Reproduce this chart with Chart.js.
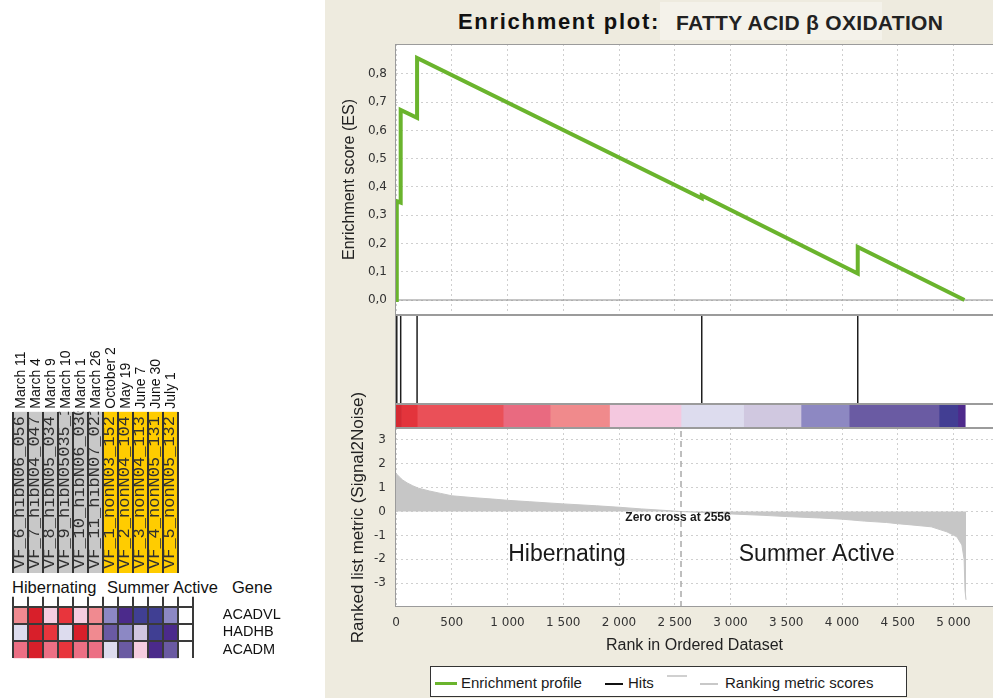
<!DOCTYPE html>
<html>
<head>
<meta charset="utf-8">
<script src="https://cdn.jsdelivr.net/npm/chart.js@4.4.1/dist/chart.umd.min.js"></script>
<style>
  html, body { margin: 0; padding: 0; background: #fff; }
  body { width: 993px; height: 698px; position: relative; overflow: hidden;
         font-family: 'Liberation Sans', Arial, sans-serif; color: #111; }
  .abs { position: absolute; white-space: nowrap; }
  canvas { position: absolute; }
  #panel { left: 325px; top: 0; width: 668px; height: 698px; background: #eeebdf; }
  .lg { font-size: 15px; line-height: 18px; top: 674px; color: #1a1a1a; }
  .grp { font-size: 16.5px; line-height: 20px; top: 577px; color: #111; }
</style>
</head>
<body>
<div id="panel" class="abs"></div>
<div class="abs" style="left:660px;top:2px;width:222px;height:38px;background:#f4f2ea;"></div>
<div class="abs" style="left:458px;top:9px;font-weight:bold;font-size:22px;letter-spacing:1.7px;color:#111;">Enrichment plot:</div>
<div class="abs" style="left:676px;top:11px;font-weight:bold;font-size:21px;letter-spacing:0.3px;color:#222;">FATTY ACID β OXIDATION</div>

<canvas id="esChart" width="668" height="271" style="left:325px;top:44px"></canvas>
<canvas id="hitsChart" width="603" height="89" style="left:390px;top:315px"></canvas>
<canvas id="barChart" width="603" height="24" style="left:390px;top:404px"></canvas>
<canvas id="metricChart" width="668" height="280" style="left:325px;top:380px"></canvas>

<div class="abs" style="left:430px;top:666px;width:475px;height:29px;border:1.5px solid #333;background:#fff;"></div>
<div class="abs" style="left:435px;top:682px;width:22px;height:3px;background:#6ab42d;"></div>
<div class="abs lg" style="left:461px;">Enrichment profile</div>
<div class="abs" style="left:605px;top:683px;width:18px;height:1.5px;background:#111;"></div>
<div class="abs lg" style="left:628px;">Hits</div>
<div class="abs" style="left:667px;top:675px;width:20px;height:1.5px;background:#d0d0d0;"></div>
<div class="abs" style="left:700px;top:683px;width:18px;height:1.5px;background:#c8c8c8;"></div>
<div class="abs lg" style="left:725px;">Ranking metric scores</div>

<canvas id="sampleChart" width="200" height="245" style="left:0;top:330px"></canvas>
<div class="abs grp" style="left:12px;">Hibernating</div>
<div class="abs grp" style="left:107px;">Summer Active</div>
<div class="abs grp" style="left:232px;">Gene</div>
<canvas id="heatChart" width="300" height="70" style="left:0;top:590px"></canvas>

<script>
// ---- data ----
const rankTicks = [0, 500, 1000, 1500, 2000, 2500, 3000, 3500, 4000, 4500, 5000];
const esTicks = [0, 0.1, 0.2, 0.3, 0.4, 0.5, 0.6, 0.7, 0.8];
const metricTicks = [-3, -2, -1, 0, 1, 2, 3];

// running enrichment score (steps at each hit)
const esRanks = [0, 7, 7, 42, 42, 189, 189, 2742, 2742, 4141, 4141, 5098];
const esValues = [0, 0, 0.35, 0.345, 0.673, 0.645, 0.857, 0.360, 0.370, 0.094, 0.188, 0];

const hitRanks = [7, 42, 189, 2742, 4141];

// ranked list metric (Signal2Noise)
const metricRanks = [0, 10, 30, 60, 100, 150, 200, 300, 400, 500,
  700, 900, 1000, 1200, 1500, 1800, 2000, 2200, 2400, 2556,
  2800, 3000, 3300, 3500, 3800, 4000, 4200, 4400, 4500, 4600,
  4800, 4940, 5030, 5075, 5095, 5103, 5112];
const metricValues = [1.62, 1.55, 1.45, 1.32, 1.2, 1.08, 0.98, 0.86, 0.76, 0.66,
  0.58, 0.51, 0.47, 0.41, 0.32, 0.24, 0.18, 0.11, 0.05, 0,
  -0.05, -0.1, -0.16, -0.21, -0.27, -0.32, -0.40, -0.46, -0.51, -0.55,
  -0.64, -0.85, -1.06, -1.4, -2.0, -3.3, -3.7];
const zeroCross = 2556;

const phenotypes = ['Hibernating', 'Summer Active'];
const phenotypeRanks = [1534, 3773];

// colour bar under the hits
const barBreaks = [0, 49, 190, 961, 1382, 1915, 2556, 3117, 3632, 4064, 4870, 5039, 5105];
const barColors = ['#d42a33', '#e3343c', '#ea5058', '#e96a80', '#f08a8c', '#f4c8df',
  '#dddcee', '#d0c8e0', '#8d88c2', '#6a5ba3', '#423e93', '#4e2a8c'];

// heat map
const dates = ['March 11', 'March 4', 'March 9', 'March 10', 'March 1', 'March 26',
  'October 2', 'May 19', 'June 7', 'June 30', 'July 1'];
const sampleIds = ['VF_6_hibN06_056', 'VF_7_hibN04_047', 'VF_8_hibN05_034', 'VF_9_hibN05035_1',
  'VF_10_hibN06_030', 'VF_11_hibN07_021', 'VF_1_nonN03_152', 'VF_2_nonN04_104',
  'VF_3_nonN04_113', 'VF_4_nonN05_131', 'VF_5_nonN05_132'];
const sampleGroups = ['hib', 'hib', 'hib', 'hib', 'hib', 'hib', 'non', 'non', 'non', 'non', 'non'];
const genes = ['ACADVL', 'HADHB', 'ACADM'];
const heatLevels = [
  [7, 10, 6, 9, 6, 7, 3, 0, 1, 1, 3],
  [5, 10, 9, 5, 10, 7, 2, 3, 4, 1, 0],
  [8, 10, 8, 9, 8, 8, 5, 2, 6, 0, 2]
];

// ---- styles ----
const heatPalette = ['#4b2a8b', '#403f93', '#6a5aa2', '#8c88c4', '#d0c6e0', '#dddcee',
  '#f5cde0', '#f08a90', '#ec6f84', '#e8353c', '#d81f2a'];
const groupColors = { hib: '#c8c8c8', non: '#ffcc00' };
const xMax = 5354;
const gridColor = '#cfcfcf';
const tickFont = { family: "'DejaVu Sans'", size: 12 };

Chart.defaults.font.family = "'Liberation Sans', Arial, sans-serif";
Chart.defaults.color = '#222';
Chart.defaults.animation = false;
Chart.defaults.responsive = false;
Chart.defaults.plugins.legend.display = false;
Chart.defaults.plugins.tooltip.enabled = false;

const fixWidth = w => s => { s.width = w; s.paddingTop = 0; s.paddingBottom = 0; };
const fixHeight = h => s => { s.height = h; s.paddingLeft = 0; s.paddingRight = 0; };
const useTicks = list => s => { s.ticks = list.map(v => ({ value: v })); };
const fmtRank = v => v < 1000 ? String(v) : Math.floor(v / 1000) + ' ' + String(v % 1000).padStart(3, '0');

// white plot area + grey frame
const framePlugin = {
  id: 'frame',
  beforeDraw(chart) {
    const { ctx, chartArea: a } = chart;
    ctx.save();
    ctx.fillStyle = '#fff';
    ctx.fillRect(a.left, a.top, a.right - a.left, a.bottom - a.top);
    ctx.restore();
  },
  afterDraw(chart) {
    const { ctx, chartArea: a } = chart;
    ctx.save();
    ctx.strokeStyle = '#9b9b9b';
    ctx.lineWidth = 1;
    ctx.strokeRect(a.left - 0.5, a.top + 0.5, a.right - a.left + 1, a.bottom - a.top - 1);
    ctx.restore();
  }
};

// Enrichment score
new Chart(document.getElementById('esChart'), {
  type: 'line',
  data: {
    datasets: [
      { data: esRanks.map((r, i) => ({ x: r, y: esValues[i] })), borderColor: '#6ab42d',
        borderWidth: 4, pointRadius: 0 },
      { data: [{ x: 0, y: 0 }, { x: xMax, y: 0 }], borderColor: '#8e8e8e', borderWidth: 1.2, pointRadius: 0 }
    ]
  },
  options: {
    layout: { padding: 0, autoPadding: false },
    scales: {
      x: { type: 'linear', min: 0, max: xMax, afterBuildTicks: useTicks(rankTicks),
           ticks: { display: false }, grid: { color: gridColor, drawTicks: false },
           border: { display: false, dash: [2, 3] }, afterFit: fixHeight(0) },
      y: { min: -0.053, max: 0.906, afterBuildTicks: useTicks(esTicks),
           ticks: { callback: v => v.toFixed(1).replace('.', ','), font: tickFont, color: '#333', padding: 9 },
           grid: { color: gridColor, drawTicks: false }, border: { display: false, dash: [2, 3] },
           title: { display: true, text: 'Enrichment score (ES)', font: { size: 16 }, color: '#222',
                    padding: { top: 15, bottom: 0 } },
           afterFit: fixWidth(71) }
    }
  },
  plugins: [framePlugin]
});

// Hits
new Chart(document.getElementById('hitsChart'), {
  type: 'scatter',
  data: {
    datasets: [{ data: hitRanks.map(r => ({ x: r, y: 0.5 })), pointStyle: 'line', pointRotation: 90,
                 pointRadius: 43.5, pointBorderColor: '#1e1e1e', pointBorderWidth: 1.5 }]
  },
  options: {
    layout: { padding: { left: 6 }, autoPadding: false },
    scales: { x: { type: 'linear', display: false, min: 0, max: xMax },
              y: { display: false, min: 0, max: 1 } }
  },
  plugins: [framePlugin]
});

// Ranked list colour bar
new Chart(document.getElementById('barChart'), {
  type: 'bar',
  data: {
    labels: ['rank'],
    datasets: barColors.map((c, i) => ({ data: [[barBreaks[i], barBreaks[i + 1]]], backgroundColor: c,
      borderWidth: 0, grouped: false, barPercentage: 1, categoryPercentage: 1 }))
  },
  options: {
    indexAxis: 'y',
    layout: { padding: { left: 6 }, autoPadding: false },
    scales: { x: { type: 'linear', display: false, min: 0, max: xMax }, y: { display: false } }
  },
  plugins: [framePlugin]
});

// Ranked list metric
const metricText = {
  id: 'metricText',
  afterDatasetsDraw(chart) {
    const { ctx, scales: { x, y } } = chart;
    ctx.save();
    ctx.fillStyle = '#1a1a1a';
    ctx.textAlign = 'center';
    ctx.textBaseline = 'middle';
    ctx.font = "bold 12px 'Liberation Sans'";
    ctx.fillText('Zero cross at ' + zeroCross, x.getPixelForValue(zeroCross) - 3, y.getPixelForValue(-0.26));
    ctx.font = "23px 'Liberation Sans'";
    phenotypes.forEach((p, i) => ctx.fillText(p, x.getPixelForValue(phenotypeRanks[i]), y.getPixelForValue(-1.82)));
    ctx.restore();
  }
};
new Chart(document.getElementById('metricChart'), {
  type: 'line',
  data: {
    datasets: [
      { data: [{ x: zeroCross, y: -4.0 }, { x: zeroCross, y: 3.5 }], borderColor: '#aaaaaa',
        borderWidth: 1.5, borderDash: [6, 4], pointRadius: 0 },
      { data: metricRanks.map((r, i) => ({ x: r, y: metricValues[i] })), borderColor: '#c6c6c6',
        backgroundColor: '#c6c6c6', borderWidth: 1, fill: 'origin', pointRadius: 0 }
    ]
  },
  options: {
    layout: { padding: { top: 48, left: 0, right: 0, bottom: 0 }, autoPadding: false },
    scales: {
      x: { type: 'linear', min: 0, max: xMax, afterBuildTicks: useTicks(rankTicks),
           ticks: { callback: fmtRank, font: tickFont, color: '#333', padding: 9, maxRotation: 0, autoSkip: false },
           grid: { color: gridColor, drawTicks: false }, border: { display: false, dash: [2, 3] },
           title: { display: true, text: 'Rank in Ordered Dataset', font: { size: 16 }, color: '#222',
                    padding: { top: 0, bottom: 5 } },
           afterFit: fixHeight(53) },
      y: { min: -4.0, max: 3.5, afterBuildTicks: useTicks(metricTicks),
           ticks: { font: tickFont, color: '#333', padding: 10 },
           grid: { color: gridColor, drawTicks: false }, border: { display: false, dash: [2, 3] },
           title: { display: true, text: 'Ranked list metric (Signal2Noise)', font: { size: 17 }, color: '#222',
                    padding: { top: 23, bottom: 0 } },
           afterFit: fixWidth(71) }
    }
  },
  plugins: [framePlugin, metricText]
});

// Sample header block (dates + sample ids)
const sampleIdText = {
  id: 'sampleIdText',
  afterDatasetsDraw(chart) {
    const { ctx, chartArea: a } = chart;
    const bars = chart.getDatasetMeta(0).data;
    ctx.save();
    ctx.beginPath();
    ctx.rect(a.left, a.top, a.right - a.left, a.bottom - a.top);
    ctx.clip();
    ctx.font = "17px 'Liberation Mono'";
    ctx.fillStyle = '#303030';
    ctx.textBaseline = 'middle';
    bars.forEach((bar, i) => {
      ctx.save();
      ctx.translate(bar.x - 1, a.bottom - 4);
      ctx.rotate(-Math.PI / 2);
      ctx.fillText(sampleIds[i], 0, 0);
      ctx.restore();
    });
    ctx.restore();
  }
};
new Chart(document.getElementById('sampleChart'), {
  type: 'bar',
  data: {
    labels: dates,
    datasets: [{ data: dates.map(() => 1), backgroundColor: sampleGroups.map(g => groupColors[g]),
                 borderWidth: 0, barPercentage: 1, categoryPercentage: 1 }]
  },
  options: {
    layout: { padding: { left: 13.3, right: 21.7, top: 0, bottom: 2 }, autoPadding: false },
    scales: {
      x: { position: 'top', ticks: { minRotation: 90, maxRotation: 90, autoSkip: false, padding: 3,
                                     labelOffset: 17, font: { size: 14 }, color: '#111' },
           grid: { offset: true, color: '#333', lineWidth: 2, drawTicks: false, z: 1 },
           border: { display: false }, afterFit: fixHeight(81.7) },
      y: { display: false, min: 0, max: 1 }
    }
  },
  plugins: [sampleIdText]
});

// Heat map of the leading genes
const rowsBottomUp = genes.map((g, i) => ({ gene: g, levels: heatLevels[i] })).reverse();
new Chart(document.getElementById('heatChart'), {
  type: 'bar',
  data: {
    labels: dates.concat(['']),
    datasets: rowsBottomUp.map(r => ({ label: r.gene, data: r.levels.map(() => 1),
      backgroundColor: r.levels.map(l => heatPalette[l]), borderWidth: 0,
      barPercentage: 1, categoryPercentage: 1 }))
  },
  options: {
    layout: { padding: { left: 13.3, top: 6.7, bottom: 1.7, right: 0 }, autoPadding: false },
    scales: {
      x: { stacked: true, ticks: { display: false },
           grid: { offset: true, lineWidth: 2, drawTicks: false, z: 1,
                   color: c => c.index === dates.length + 1 ? 'rgba(0,0,0,0)' : '#3a3a3a' },
           border: { display: false }, afterFit: fixHeight(0) },
      y: { stacked: true, min: 0, max: 3.58, afterBuildTicks: useTicks([1, 2, 3]),
           ticks: { display: false }, grid: { color: '#3a3a3a', lineWidth: 2, drawTicks: false, z: 1 },
           border: { display: false }, afterFit: fixWidth(0) },
      y2: { position: 'right', min: 0, max: 3.58, afterBuildTicks: useTicks([0.5, 1.5, 2.5]),
            ticks: { callback: v => rowsBottomUp[Math.floor(v)].gene, font: { size: 14.5 }, color: '#111', padding: 29.5 },
            grid: { display: false, drawTicks: false }, border: { display: false }, afterFit: fixWidth(106.7) }
    }
  }
});
</script>
</body>
</html>
